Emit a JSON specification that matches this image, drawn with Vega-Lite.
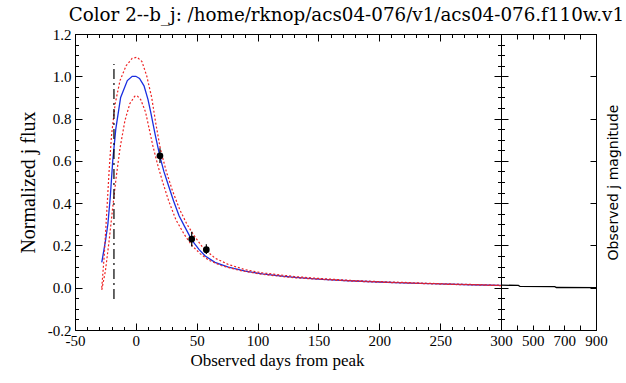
{
  "$schema": "https://vega.github.io/schema/vega-lite/v6.json",
  "background": "white",
  "padding": {"left": 17, "top": 6, "right": 2, "bottom": 4},
  "spacing": 0,
  "bounds": "flush",
  "title": {"text": "Color 2--b_j: /home/rknop/acs04-076/v1/acs04-076.f110w.v1", "font": "DejaVu Serif", "fontSize": 18.3, "fontWeight": "normal", "color": "black", "anchor": "start", "dx": 51, "offset": 1},
  "datasets": {
    "fit": [
      {"day": -28, "flux": 0.12}, {"day": -25, "flux": 0.22}, {"day": -23, "flux": 0.3}, {"day": -21, "flux": 0.43},
      {"day": -19, "flux": 0.6}, {"day": -16.5, "flux": 0.75}, {"day": -12.5, "flux": 0.9}, {"day": -7, "flux": 0.98},
      {"day": -3, "flux": 1.0}, {"day": 0, "flux": 1.0}, {"day": 3, "flux": 0.99}, {"day": 6.7, "flux": 0.955},
      {"day": 10, "flux": 0.89}, {"day": 12.2, "flux": 0.83}, {"day": 16, "flux": 0.72}, {"day": 19.8, "flux": 0.62},
      {"day": 23, "flux": 0.55}, {"day": 27, "flux": 0.48}, {"day": 31, "flux": 0.41}, {"day": 35.5, "flux": 0.34},
      {"day": 40, "flux": 0.29}, {"day": 46, "flux": 0.225}, {"day": 52, "flux": 0.18}, {"day": 57, "flux": 0.15},
      {"day": 65, "flux": 0.12}, {"day": 76, "flux": 0.097}, {"day": 90, "flux": 0.078}, {"day": 104, "flux": 0.065},
      {"day": 120, "flux": 0.055}, {"day": 131, "flux": 0.049}, {"day": 150, "flux": 0.041}, {"day": 175, "flux": 0.033},
      {"day": 200, "flux": 0.027}, {"day": 225, "flux": 0.022}, {"day": 250, "flux": 0.018}, {"day": 275, "flux": 0.014},
      {"day": 300, "flux": 0.011}
    ],
    "upper": [
      {"day": -28, "flux": 0.0}, {"day": -26, "flux": 0.15}, {"day": -24, "flux": 0.35}, {"day": -22, "flux": 0.55},
      {"day": -20, "flux": 0.72}, {"day": -17, "flux": 0.87}, {"day": -13, "flux": 0.98}, {"day": -8, "flux": 1.05},
      {"day": -3, "flux": 1.085}, {"day": 1, "flux": 1.09}, {"day": 5, "flux": 1.07}, {"day": 9, "flux": 1.0},
      {"day": 13, "flux": 0.9}, {"day": 16.3, "flux": 0.78}, {"day": 20, "flux": 0.66}, {"day": 25, "flux": 0.55},
      {"day": 30, "flux": 0.46}, {"day": 36, "flux": 0.37}, {"day": 42, "flux": 0.3}, {"day": 48, "flux": 0.245},
      {"day": 55, "flux": 0.19}, {"day": 65, "flux": 0.14}, {"day": 76, "flux": 0.11}, {"day": 90, "flux": 0.085},
      {"day": 104, "flux": 0.07}, {"day": 130, "flux": 0.053}, {"day": 150, "flux": 0.044}, {"day": 175, "flux": 0.035},
      {"day": 200, "flux": 0.029}, {"day": 250, "flux": 0.019}, {"day": 300, "flux": 0.012}
    ],
    "lower": [
      {"day": -28, "flux": -0.01}, {"day": -25, "flux": 0.08}, {"day": -22, "flux": 0.22}, {"day": -19, "flux": 0.38},
      {"day": -16, "flux": 0.53}, {"day": -13, "flux": 0.66}, {"day": -9, "flux": 0.79}, {"day": -5, "flux": 0.87},
      {"day": -1, "flux": 0.905}, {"day": 1, "flux": 0.908}, {"day": 4, "flux": 0.89}, {"day": 8, "flux": 0.83},
      {"day": 11, "flux": 0.75}, {"day": 14, "flux": 0.67}, {"day": 18, "flux": 0.58}, {"day": 22, "flux": 0.5},
      {"day": 27, "flux": 0.41}, {"day": 33, "flux": 0.32}, {"day": 40, "flux": 0.25}, {"day": 46, "flux": 0.2},
      {"day": 53, "flux": 0.16}, {"day": 60, "flux": 0.13}, {"day": 70, "flux": 0.105}, {"day": 85, "flux": 0.082},
      {"day": 104, "flux": 0.063}, {"day": 130, "flux": 0.047}, {"day": 150, "flux": 0.04}, {"day": 175, "flux": 0.032},
      {"day": 200, "flux": 0.026}, {"day": 250, "flux": 0.017}, {"day": 300, "flux": 0.01}
    ],
    "peakline": [{"day": -18, "lo": -0.053, "hi": 1.058}],
    "obs": [
      {"day": 19.8, "flux": 0.624, "lo": 0.59, "hi": 0.66},
      {"day": 45.9, "flux": 0.23, "lo": 0.195, "hi": 0.265},
      {"day": 57.9, "flux": 0.18, "lo": 0.16, "hi": 0.205}
    ],
    "late": [
      {"day": 300, "flux": 0.012}, {"day": 410, "flux": 0.011}, {"day": 420, "flux": 0.006},
      {"day": 640, "flux": 0.005}, {"day": 650, "flux": 0.001}, {"day": 900, "flux": 0.0}
    ]
  },
  "hconcat": [
    {
      "width": 426,
      "height": 296,
      "resolve": {"axis": {"x": "independent", "y": "independent"}},
      "layer": [
        {
          "data": {"name": "fit"},
          "mark": {"type": "line", "color": "#1a2ee0", "strokeWidth": 1.3},
          "encoding": {
            "x": {"field": "day", "type": "quantitative", "scale": {"domain": [-50, 300], "nice": false, "zero": false},
              "axis": {"orient": "bottom", "values": [-50, 0, 50, 100, 150, 200, 250, 300], "tickSize": 7, "offset": -7,
                "labelExpr": "'' + datum.value", "labelPadding": 3,
                "title": "Observed days from peak", "titlePadding": 4, "titleX": 202, "titleAlign": "center"}},
            "y": {"field": "flux", "type": "quantitative", "scale": {"domain": [-0.2, 1.2], "nice": false, "zero": false},
              "axis": {"orient": "left", "values": [-0.2, 0, 0.2, 0.4, 0.6, 0.8, 1, 1.2], "tickSize": 7, "offset": -7,
                "labelExpr": "(datum.value < 0 ? '-' : '') + format(abs(datum.value), '.1f')", "labelPadding": 4,
                "title": "Normalized j flux", "titleFontSize": 20, "titlePadding": 9}}
          }
        },
        {
          "data": {"name": "upper"},
          "mark": {"type": "line", "color": "#ee2222", "strokeWidth": 1.2, "strokeDash": [2, 2]},
          "encoding": {
            "x": {"field": "day", "type": "quantitative", "scale": {"domain": [-50, 300], "nice": false, "zero": false},
              "axis": {"orient": "top", "values": [-50, 0, 50, 100, 150, 200, 250, 300], "tickSize": 7, "offset": -7, "labels": false, "title": null}},
            "y": {"field": "flux", "type": "quantitative", "scale": {"domain": [-0.2, 1.2], "nice": false, "zero": false},
              "axis": {"orient": "right", "values": [-0.2, 0, 0.2, 0.4, 0.6, 0.8, 1, 1.2], "tickSize": 7, "offset": -7, "labels": false, "title": null}}
          }
        },
        {
          "data": {"name": "lower"},
          "mark": {"type": "line", "color": "#ee2222", "strokeWidth": 1.2, "strokeDash": [2, 2]},
          "encoding": {
            "x": {"field": "day", "type": "quantitative", "scale": {"domain": [-50, 300], "nice": false, "zero": false},
              "axis": {"orient": "bottom", "values": [-40,-30,-20,-10,10,20,30,40,60,70,80,90,110,120,130,140,160,170,180,190,210,220,230,240,260,270,280,290],
                "tickSize": 3.5, "offset": -3.5, "labels": false, "title": null}},
            "y": {"field": "flux", "type": "quantitative", "scale": {"domain": [-0.2, 1.2], "nice": false, "zero": false},
              "axis": {"orient": "left", "values": [-0.15,-0.1,-0.05,0.05,0.1,0.15,0.25,0.3,0.35,0.45,0.5,0.55,0.65,0.7,0.75,0.85,0.9,0.95,1.05,1.1,1.15],
                "tickSize": 3.5, "offset": -3.5, "labels": false, "title": null}}
          }
        },
        {
          "data": {"name": "fit"},
          "mark": {"type": "line", "color": "black", "strokeOpacity": 0},
          "encoding": {
            "x": {"field": "day", "type": "quantitative", "scale": {"domain": [-50, 300], "nice": false, "zero": false},
              "axis": {"orient": "top", "values": [-40,-30,-20,-10,10,20,30,40,60,70,80,90,110,120,130,140,160,170,180,190,210,220,230,240,260,270,280,290],
                "tickSize": 3.5, "offset": -3.5, "labels": false, "title": null}},
            "y": {"field": "flux", "type": "quantitative", "scale": {"domain": [-0.2, 1.2], "nice": false, "zero": false},
              "axis": {"orient": "right", "values": [-0.15,-0.1,-0.05,0.05,0.1,0.15,0.25,0.3,0.35,0.45,0.5,0.55,0.65,0.7,0.75,0.85,0.9,0.95,1.05,1.1,1.15],
                "tickSize": 3.5, "offset": -3.5, "labels": false, "title": null}}
          }
        },
        {
          "data": {"name": "peakline"},
          "mark": {"type": "rule", "color": "black", "strokeWidth": 1.2, "strokeDash": [10, 4, 2, 4]},
          "encoding": {
            "x": {"field": "day", "type": "quantitative",
              "axis": {"orient": "bottom", "domain": true, "domainColor": "black", "domainWidth": 1, "ticks": false, "labels": false, "title": null}},
            "y": {"field": "lo", "type": "quantitative",
              "axis": {"orient": "left", "domain": true, "domainColor": "black", "domainWidth": 1, "ticks": false, "labels": false, "title": null}},
            "y2": {"field": "hi"}
          }
        },
        {
          "data": {"name": "obs"},
          "mark": {"type": "rule", "color": "black", "strokeWidth": 1.2},
          "encoding": {
            "x": {"field": "day", "type": "quantitative",
              "axis": {"orient": "top", "domain": true, "domainColor": "black", "domainWidth": 1, "ticks": false, "labels": false, "title": null}},
            "y": {"field": "lo", "type": "quantitative",
              "axis": {"orient": "right", "domain": true, "domainColor": "black", "domainWidth": 1, "ticks": false, "labels": false, "title": null}},
            "y2": {"field": "hi"}
          }
        },
        {
          "data": {"name": "obs"},
          "mark": {"type": "point", "filled": true, "color": "black", "size": 45, "opacity": 1},
          "encoding": {
            "x": {"field": "day", "type": "quantitative", "axis": null},
            "y": {"field": "flux", "type": "quantitative", "axis": null}
          }
        }
      ]
    },
    {
      "width": 95,
      "height": 296,
      "resolve": {"axis": {"x": "independent", "y": "independent"}},
      "layer": [
        {
          "data": {"name": "late"},
          "mark": {"type": "line", "color": "black", "strokeWidth": 1.3},
          "encoding": {
            "x": {"field": "day", "type": "quantitative", "scale": {"domain": [300, 900], "nice": false, "zero": false},
              "axis": {"orient": "bottom", "values": [300,400,500,600,700,800,900], "tickSize": 5, "offset": -5,
                "labelExpr": "datum.value == 500 || datum.value == 700 || datum.value == 900 ? '' + datum.value : ''",
                "labelPadding": 3, "title": null}},
            "y": {"field": "flux", "type": "quantitative", "scale": {"domain": [-0.2, 1.2], "nice": false, "zero": false},
              "axis": {"orient": "left", "values": [-0.2, 0, 0.2, 0.4, 0.6, 0.8, 1, 1.2], "tickSize": 7, "offset": -7, "labels": false, "title": null}}
          }
        },
        {
          "data": {"name": "late"},
          "mark": {"type": "line", "color": "black", "strokeOpacity": 0},
          "encoding": {
            "x": {"field": "day", "type": "quantitative", "scale": {"domain": [300, 900], "nice": false, "zero": false},
              "axis": {"orient": "top", "values": [300,400,500,600,700,800,900], "tickSize": 5, "offset": -5, "labels": false, "title": null}},
            "y": {"field": "flux", "type": "quantitative", "scale": {"domain": [-0.2, 1.2], "nice": false, "zero": false},
              "axis": {"orient": "right", "values": [-0.2, 0, 0.2, 0.4, 0.6, 0.8, 1, 1.2], "tickSize": 6, "offset": -6, "labels": false,
                "title": "Observed j magnitude", "titleAngle": 270, "titleFont": "DejaVu Sans", "titleFontSize": 14, "titlePadding": 24}}
          }
        },
        {
          "data": {"name": "late"},
          "mark": {"type": "line", "color": "black", "strokeOpacity": 0},
          "encoding": {
            "x": {"field": "day", "type": "quantitative", "scale": {"domain": [300, 900], "nice": false, "zero": false},
              "axis": {"orient": "bottom", "domain": true, "domainColor": "black", "domainWidth": 1, "ticks": false, "labels": false, "title": null}},
            "y": {"field": "flux", "type": "quantitative", "scale": {"domain": [-0.2, 1.2], "nice": false, "zero": false},
              "axis": {"orient": "left", "values": [-0.15,-0.1,-0.05,0.05,0.1,0.15,0.25,0.3,0.35,0.45,0.5,0.55,0.65,0.7,0.75,0.85,0.9,0.95,1.05,1.1,1.15],
                "tickSize": 3.5, "offset": -3.5, "labels": false, "title": null}}
          }
        },
        {
          "data": {"name": "late"},
          "mark": {"type": "line", "color": "black", "strokeOpacity": 0},
          "encoding": {
            "x": {"field": "day", "type": "quantitative", "scale": {"domain": [300, 900], "nice": false, "zero": false},
              "axis": {"orient": "top", "domain": true, "domainColor": "black", "domainWidth": 1, "ticks": false, "labels": false, "title": null}},
            "y": {"field": "flux", "type": "quantitative", "scale": {"domain": [-0.2, 1.2], "nice": false, "zero": false},
              "axis": {"orient": "right", "domain": true, "domainColor": "black", "domainWidth": 1, "ticks": false, "labels": false, "title": null}}
          }
        },
        {
          "data": {"name": "late"},
          "mark": {"type": "line", "color": "black", "strokeOpacity": 0},
          "encoding": {
            "x": {"field": "day", "type": "quantitative", "scale": {"domain": [300, 900], "nice": false, "zero": false}, "axis": null},
            "y": {"field": "flux", "type": "quantitative", "scale": {"domain": [-0.2, 1.2], "nice": false, "zero": false},
              "axis": {"orient": "left", "domain": true, "domainColor": "black", "domainWidth": 1, "ticks": false, "labels": false, "title": null}}
          }
        }
      ]
    }
  ],
  "config": {
    "view": {"stroke": "black", "strokeWidth": 1},
    "axis": {"domain": false, "grid": false, "ticks": true, "tickColor": "black", "tickWidth": 1,
      "labelColor": "black", "titleColor": "black", "labelFont": "Liberation Serif", "labelFontSize": 15,
      "titleFont": "Liberation Serif", "titleFontSize": 17, "titleFontWeight": "normal",
      "labelOverlap": false, "labelFlush": false, "labelBound": false}
  }
}
